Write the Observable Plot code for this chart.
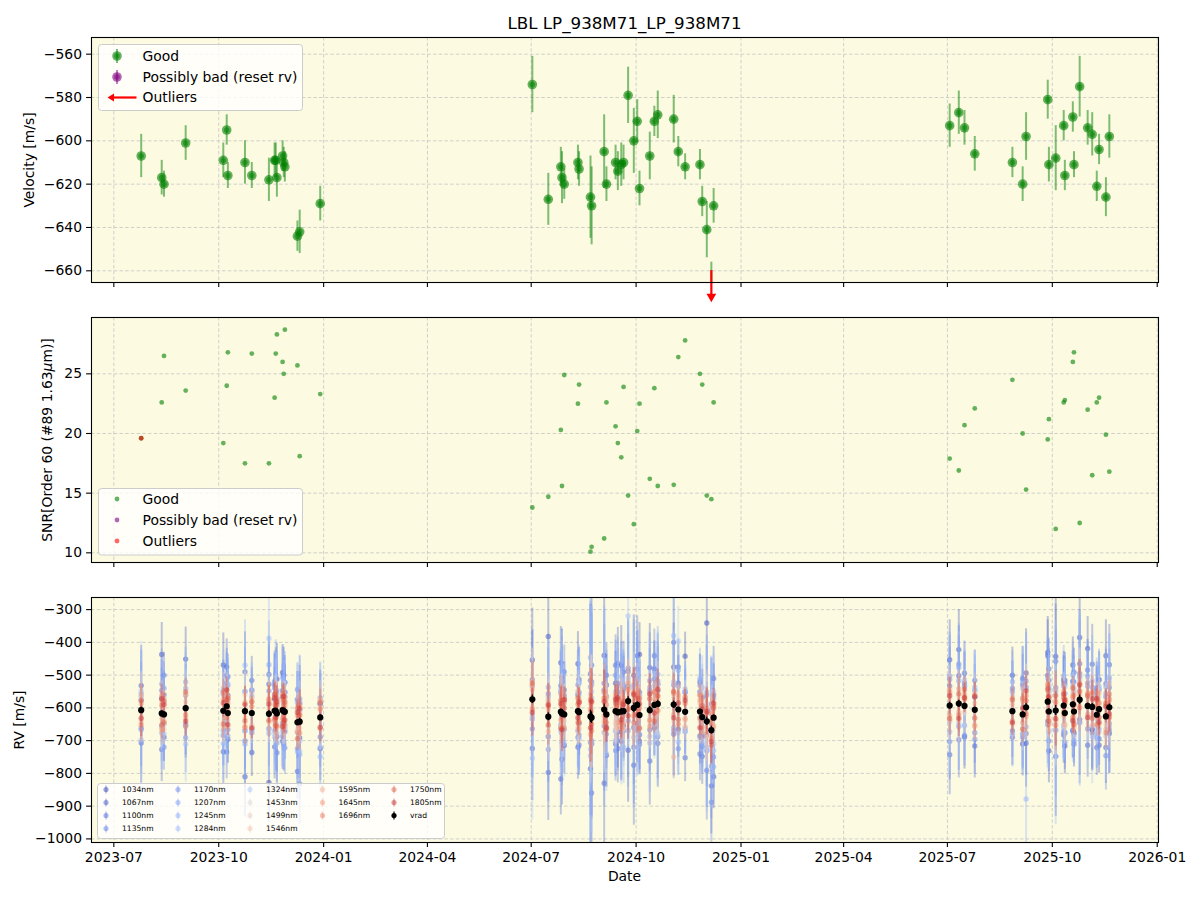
<!DOCTYPE html>
<html>
<head>
<meta charset="utf-8">
<script src="https://cdn.jsdelivr.net/npm/d3@7"></script>
<script src="https://cdn.jsdelivr.net/npm/@observablehq/plot@0.6"></script>
<style>
  body { margin: 0; background: #fff; font-family: "DejaVu Sans", sans-serif; }
  #fig { position: relative; width: 1200px; height: 900px; overflow: hidden; background: #fff; }
  .panel { position: absolute; left: 0; }
  .lbl { position: absolute; white-space: nowrap; font-size: 13.9px; line-height: 1; color: #000; }
  .rot { transform: translate(-50%, -50%) rotate(-90deg); }
  .ctr { transform: translate(-50%, -50%); }
</style>
</head>
<body>
<div id="fig"></div>
<script>
// ---------- observation epochs ----------
const epochDates = [
  "2023-07-25","2023-08-12","2023-08-14","2023-09-02","2023-10-05","2023-10-08","2023-10-09",
  "2023-10-24","2023-10-30","2023-11-14","2023-11-19","2023-11-20","2023-11-21","2023-11-26",
  "2023-11-27","2023-11-28","2023-12-09","2023-12-11","2023-12-29",
  "2024-07-02","2024-07-16","2024-07-27","2024-07-28","2024-07-30","2024-08-11","2024-08-12",
  "2024-08-22","2024-08-23","2024-09-03","2024-09-05","2024-09-13","2024-09-15","2024-09-18",
  "2024-09-20","2024-09-24","2024-09-29","2024-10-02","2024-10-04","2024-10-13","2024-10-17",
  "2024-10-20","2024-11-03","2024-11-07","2024-11-13","2024-11-26","2024-11-28","2024-12-02",
  "2024-12-06","2024-12-08",
  "2025-07-03","2025-07-11","2025-07-16","2025-07-25","2025-08-27","2025-09-05","2025-09-08",
  "2025-09-27","2025-09-28","2025-10-04","2025-10-11","2025-10-12","2025-10-19","2025-10-20",
  "2025-10-25","2025-11-01","2025-11-05","2025-11-09","2025-11-11","2025-11-17","2025-11-20"
];

// LBL velocity per epoch [m/s] and its uncertainty
const vrad = [
  -607, -617, -620, -601, -609, -595, -616, -610, -616, -618, -609, -609, -617, -607, -610, -612, -644, -642, -629,
  -574, -627, -612, -617, -620, -610, -613, -626, -630, -605, -620, -610, -614, -611, -610,
  -579, -600, -591, -622, -607, -591, -588, -590, -605, -612, -611, -628, -641, -668, -630,
  -593, -587, -594, -606, -610, -620, -598, -581, -611, -608, -593, -616, -589, -611, -575, -594, -597, -621, -604, -626, -598
];
const vradErr = [
  10, 8, 6, 8, 8, 7, 6, 10, 6, 10, 8, 8, 9, 7, 7, 7, 7, 10, 8,
  13, 12, 9, 12, 7, 8, 8, 19, 18, 17, 8, 8, 9, 10, 8, 13, 15, 10, 8, 11, 7, 11, 11, 7, 6, 7, 7, 13, 12, 8,
  10, 10, 8, 8, 7, 8, 11, 9, 8, 15, 7, 7, 7, 6, 14, 8, 10, 7, 7, 9, 10
];

// SNR in order 60 per epoch
const snr = [
  19.6, 22.6, 26.5, 23.6, 19.2, 24.0, 26.8, 17.5, 26.7, 17.5, 23.0, 26.7, 28.3, 26.0, 25.0, 28.7, 25.7, 18.1, 23.3,
  13.8, 14.7, 20.3, 15.6, 24.9, 22.5, 24.1, 10.1, 10.5, 11.2, 22.6, 20.6, 19.2, 18.0, 23.9, 14.8, 12.4, 20.2, 22.5,
  16.2, 23.8, 15.6, 15.7, 26.4, 27.8, 25.0, 24.1, 14.8, 14.5, 22.6,
  17.9, 16.9, 20.7, 22.1, 24.5, 20.0, 15.3, 19.5, 21.2, 12.0, 22.6, 22.8, 26.0, 26.8, 12.5, 22.0, 16.5, 22.6, 23.0, 19.9, 16.8
];

// flagged epochs
const velocityOutlierDates = ["2024-12-06"];
const snrOutlierDates = ["2023-07-25"];
const possiblyBadDates = [];

// ---------- per-band (chromatic) velocities: band RV minus the epoch's vrad [m/s] ----------
const bandNames = ["1034nm","1067nm","1100nm","1135nm","1170nm","1207nm","1245nm","1284nm","1324nm",
                   "1453nm","1499nm","1546nm","1595nm","1645nm","1696nm","1750nm","1805nm"];
const bandWavelengths = [1034, 1067, 1100, 1135, 1170, 1207, 1245, 1284, 1324, 1453, 1499, 1546, 1595, 1645, 1696, 1750, 1805];
// typical per-band uncertainty at an epoch with a 9 m/s vrad error
const bandErr = [110, 110, 105, 105, 120, 120, 125, 130, 135, 80, 70, 62, 52, 48, 46, 46, 50];

const off1034 = [75, 180, -70, 150, 140, -45, 55, -200, -120, -210, 35, -85, 105, 115, -40, 60, 70, -50, -95,
  120, 245, 150, 55, -95, 145, -35, -160, -80, 165, -125, 85, -60, 140, -45, -150, 100, -55, 185, 130, -70, 40, 115, -60, 170, -75, 60, 300, 20, -180,
  140, 165, -95, 40, 110, -90, 105, 150, -120, 165, 80, -100, 120, -65, 190, 175, -70, 60, -110, 185, -80];
const off1067 = [-100, -110, 60, -55, -125, 120, -80, 120, 100, 90, -110, 95, -70, -95, 110, -60, -150, -190, 45,
  -150, -170, -205, 110, 75, -110, 100, 110, 160, -225, 120, -100, 150, -90, 70, 45, -175, 150, -80, -155, 110, -120, 190, 80, -140, 90, -120, -40, -170, 120,
  -150, 85, 100, -110, -80, 110, -110, 140, 95, -140, -90, 100, -80, 120, -60, -120, 130, -100, 90, -95, 130];
const off1100 = [30, 45, 120, -50, 60, -140, 110, -60, 70, 120, 80, -40, -120, 60, -100, 90, -30, 55, -60,
  60, -60, 80, -140, 130, 50, -100, 130, -230, 60, 90, 140, -110, 60, 120, 90, -60, 110, 70, -60, 150, 60, -90, 130, 60, -130, -60, -150, 80, 70,
  60, -110, 70, 90, -60, 90, -80, -60, 130, 150, 70, 90, -80, -100, 110, 110, -70, 80, -90, 100, -50];
const off1135 = [-55, 70, -100, 40, -75, 95, -50, -90, -60, -45, 90, -60, 45, -40, 80, -110, 100, 35, 40,
  -90, 70, -40, 95, 55, -80, 60, -80, 110, -50, 55, -120, 90, -90, -60, 100, -120, 80, -90, 60, 80, -100, 60, -120, -60, 60, -90, 80, -220, -120,
  -110, 120, -90, -70, 70, -70, 60, 80, -90, 70, -80, -90, 70, -90, 80, -70, -80, 70, 60, -120, 60];
const off1170 = [50, -40, 80, -90, -60, 70, 85, 60, -50, 70, 70, 60, -90, -80, 60, 45, -80, 70, 60,
  40, -100, 60, -60, -45, 80, -70, 90, -70, 80, -60, 110, -60, 80, 80, -60, 70, -80, -60, 90, -60, 70, -80, 70, -50, 80, -60, -90, -110, 60,
  80, -70, 60, -90, 60, -60, 80, -70, 70, -60, 60, -60, 70, 90, -70, 70, 60, -70, 90, 60, -70];
const off1207 = [-60, 90, 40, 80, 50, -50, -70, -100, 50, 150, -60, 110, 70, 100, -90, 90, 60, -100, 40,
  -60, 90, -50, 100, 40, -60, 90, 180, 100, -70, 90, -60, 110, 60, 70, -90, 60, 70, -60, 70, 100, 90, -70, 120, 60, 100, -80, 90, 60, -150,
  90, 110, -60, 60, 90, 100, -60, 80, -60, 60, 90, -60, 90, -70, 70, 90, -60, 80, -60, 70, 90];
const off1245 = [40, -60, -60, 60, -100, 60, 40, 140, 70, -60, 50, -70, 60, -60, 90, -50, -90, 60, -120,
  -50, 60, 70, -90, 60, 50, -80, -120, 60, 80, -40, -90, 60, 50, -110, 70, -60, 90, 60, -100, -60, 60, 210, -70, 70, 60, 90, -80, 60, -100,
  -80, 70, 60, 70, -70, -60, -280, 70, 60, -140, -60, 60, -80, 60, -70, 60, 80, -60, 70, 90, -60];
const off1284 = [-90, 50, -30, -110, 70, -80, 50, 60, -50, 230, -80, 60, -60, 40, -70, 60, 40, -90, -90,
  -180, -60, 60, 50, -90, 60, 90, -100, 80, 50, -120, 60, 80, -80, 60, 260, -90, 60, 50, -80, 60, -90, 70, -100, 60, -80, 60, -90, 50, 80,
  90, -60, 80, 60, -70, 80, 60, -70, 80, -60, -70, 80, 60, -80, 70, 60, -90, 60, -70, 60, 80];
const off1324 = [60, -40, 50, 60, -70, -50, 90, -60, 60, -50, -70, 40, 50, -70, 50, -40, 70, -60, 50,
  -60, 50, -60, 70, 50, -60, 50, 70, -80, 60, 50, -60, 70, 50, -50, 60, 60, -70, 60, 50, -60, 60, 60, 210, -60, 50, -70, 50, -60, -80,
  -50, 70, -60, 60, 50, -60, 60, -70, 60, 50, -60, 60, -50, 70, 60, -70, 60, -50, 60, -60, 70];
const off1453 = [30, -40, 20, 45, -30, 40, -20, 30, -40, 35, -25, 40, -30, 25, -40, 30, -20, 35, -30,
  40, -30, 35, -40, 30, -25, 40, -35, 30, -40, 25, -30, 40, -35, 30, -25, 35, -40, 30, -20, 40, -30, 25, -35, 40, -30, 35, -25, 30, -40,
  35, -30, 40, -25, 30, -40, 35, -30, 25, -35, 40, -30, 35, -25, 30, -40, 35, -30, 40, -25, 30];
const off1499 = [-20, 35, -45, 20, 55, -30, 15, 50, -35, 25, 45, -20, 30, -50, 20, 40, -25, 15, 50,
  55, 20, -45, 30, -20, 60, -35, 15, 50, -40, 30, -55, 20, 45, -30, 25, -15, 50, -40, 35, -25, 45, -50, 20, 30, -45, 15, 55, -30, 25,
  -45, 25, -20, 50, -35, 15, 45, -30, -55, 20, 35, -40, 25, -15, 50, -35, 20, 45, -25, 30, -50];
const off1546 = [45, -15, 30, -55, 20, 50, -40, -20, 45, 15, -45, 25, 35, -30, 10, -50, 40, -20, 30,
  -25, 50, 20, -35, 45, -50, 25, 60, -30, 20, 45, -40, 15, 35, -55, 40, 20, -25, 55, -35, 15, -20, 40, 30, -45, 25, 50, -35, 20, -30,
  25, -50, 30, 20, -40, 45, -25, 15, 55, -30, 20, 40, -45, 25, -20, 35, -55, 30, 15, 45, -35];
const off1595 = [-35, 55, -20, 40, -50, 25, 15, -45, 35, -25, 20, 50, -40, 30, -15, 45, -30, 25, 55,
  30, -45, 55, -20, 35, 25, -50, 40, 20, -35, 55, 15, -45, 30, 40, -20, 50, -30, 25, 45, -40, 15, -160, 35, -25, 50, 20, -45, 30, 40,
  50, -25, 35, -45, 20, 40, -30, 55, -20, 30, 45, -35, 25, -50, 15, 40, -25, 30, 50, -40, 20];
const off1645 = [20, -50, 45, -30, 35, -20, 50, 25, -45, 40, -30, 15, 45, -25, 35, -40, 20, 50, -35,
  45, 30, -25, 50, -40, 20, 35, -55, 45, -20, 30, 50, -30, 25, -40, 55, -25, 35, 20, -50, 40, 25, -30, 45, -20, 35, -45, 30, 50, -25,
  -30, 45, 20, -50, 40, -25, 35, 50, -40, 25, -30, 45, 20, -35, 50, -25, 40, 20, -45, 35, 25];
const off1696 = [-45, 25, 40, -20, 55, -35, 30, -50, 20, 45, -25, 35, -40, 50, -30, 20, 45, -35, 25,
  -30, 40, -50, 25, 45, -35, 30, 20, -40, 55, -25, 40, 30, -50, 20, 35, -45, 25, 50, -30, 40, -20, 35, -45, 25, 50, -30, 40, -25, 35,
  40, -35, 25, 45, -30, 50, -20, 35, 40, -45, 25, 30, -40, 50, -25, 35, 45, -30, 20, -50, 40];
const off1750 = [30, -35, -25, 50, -40, 20, 45, -30, 35, -20, 50, -45, 25, 40, -35, 30, -50, 20, 45,
  50, -25, 35, -45, 20, 40, -30, 50, -20, 35, -45, 25, 40, -35, 30, -25, 45, 20, -40, 35, -50, 25, 40, -30, 45, -20, 35, 25, -45, 30,
  -40, 30, 50, -25, 35, -45, 20, 40, -30, 45, -20, 35, 50, -40, 25, 30, -35, 45, -25, 40, -30];
const off1805 = [-25, 45, 30, -40, 25, 50, -35, 20, -45, 30, 40, -20, 35, -50, 45, -25, 30, 40, -30,
  -40, 35, 25, -50, 45, -20, 30, -35, 50, 25, -40, 35, 45, -25, 20, -45, 40, -30, 35, 50, -25, 45, -40, 20, 35, -50, 25, 30, -35, 45,
  30, -45, 25, 40, -35, 20, 50, -30, 45, -25, 35, 40, -50, 20, 45, -35, 25, 50, -40, 30, -20];
const bandOffsets = [off1034, off1067, off1100, off1135, off1170, off1207, off1245, off1284, off1324,
                     off1453, off1499, off1546, off1595, off1645, off1696, off1750, off1805];

// ---------- axes ----------
const xDomain = ["2023-06-11T10:00:00Z", "2026-01-02T03:00:00Z"];
const quarterTicks = ["2023-07-01","2023-10-01","2024-01-01","2024-04-01","2024-07-01","2024-10-01",
                      "2025-01-01","2025-04-01","2025-07-01","2025-10-01","2026-01-01"];
const velDomain = [-665.4, -552.3];
const velTicks = [-660, -640, -620, -600, -580, -560];
const snrDomain = [9.19, 29.72];
const snrTicks = [10, 15, 20, 25];
const rvDomain = [-1011, -263];
const rvTicks = [-1000, -900, -800, -700, -600, -500, -400, -300];

const titleText = "LBL LP_938M71_LP_938M71";

// ---------- derived tables ----------
const obs = epochDates.map((d, i) => ({date: new Date(d), v: vrad[i], e: vradErr[i], snr: snr[i]}));
const velOutliers = obs.filter(o => velocityOutlierDates.includes(o.date.toISOString().slice(0, 10)));
const snrOutliers = obs.filter(o => snrOutlierDates.includes(o.date.toISOString().slice(0, 10)));
const possiblyBad = obs.filter(o => possiblyBadDates.includes(o.date.toISOString().slice(0, 10)));

const coolwarm = d3.piecewise(d3.interpolateRgb, ["#3b4cc0","#6282ea","#8db0fe","#b8d0f9","#dddcdc","#f5c4ac","#f49a7b","#dc5d4a","#b40426"]);
const wlExtent = d3.extent(bandWavelengths);
// band colours sampled along coolwarm, stopping short of the darkest red
const bandColor = b => coolwarm(0.93 * (bandWavelengths[b] - wlExtent[0]) / (wlExtent[1] - wlExtent[0]));

const chromatic = bandNames.map((name, b) => epochDates.map((d, e) => ({
  date: new Date(d),
  rv: vrad[e] + bandOffsets[b][e],
  err: bandErr[b] * vradErr[e] / 9
})));

// ---------- layout ----------
const fig = document.getElementById("fig");
const bg = "#fcfbe2";
const gridStyle = {stroke: "#c4c4c4", strokeOpacity: 1, strokeWidth: 0.8, strokeDasharray: "3.5,2.2"};
const xTime = {type: "utc", domain: xDomain.map(d => new Date(d))};
const xTickDates = quarterTicks.map(d => new Date(d));

function panel(top, height, mt, mb, yDomain, yTicks, marks, showDates) {
  const chart = Plot.plot({
    width: 1200, height,
    marginLeft: 91, marginRight: 42, marginTop: mt, marginBottom: mb,
    style: {fontFamily: "'DejaVu Sans', sans-serif", fontSize: "13.9px", background: "transparent", color: "#000", overflow: "visible"},
    x: xTime,
    y: {domain: yDomain},
    marks: [
      Plot.frame({fill: bg, stroke: "none"}),
      Plot.gridX(xTickDates, gridStyle),
      Plot.gridY(yTicks, gridStyle),
      ...marks,
      Plot.frame({stroke: "#000", strokeWidth: 1.1}),
      Plot.axisX(xTickDates, {tickSize: 4.9, tickPadding: 4.6, strokeWidth: 1.1, label: null,
        tickFormat: showDates ? d3.utcFormat("%Y-%m") : () => ""}),
      Plot.axisY(yTicks, {tickSize: 4.9, tickPadding: 4.6, strokeWidth: 1.1, label: null, tickFormat: d3.format("d")})
    ]
  });
  chart.classList.add("panel");
  chart.style.top = top + "px";
  chart.style.position = "absolute";
  fig.appendChild(chart);
  return chart;
}

// Panel 1: LBL velocity (off-scale points flagged with a red arrow below the axis)
panel(0, 310, 37, 28, velDomain, velTicks, [
  Plot.ruleX(obs, {x: "date", y1: d => d.v - d.e, y2: d => d.v + d.e, stroke: "green", strokeOpacity: 0.5, strokeWidth: 2, clip: true}),
  Plot.dot(obs, {x: "date", y: "v", r: 4.8, fill: "green", fillOpacity: 0.6, clip: true}),
  Plot.dot(obs, {x: "date", y: "v", r: 2.8, fill: "green", fillOpacity: 0.5, clip: true}),
  Plot.dot(possiblyBad, {x: "date", y: "v", r: 4.8, fill: "purple", fillOpacity: 0.6, clip: true}),
  Plot.ruleX(velOutliers, {x: "date", y1: () => velDomain[0] + 5.5, y2: () => velDomain[0] - 6.5, stroke: "red", strokeWidth: 2.2}),
  Plot.dot(velOutliers, {x: "date", y: () => velDomain[0] - 6.5, symbol: "triangle", rotate: 180, r: 3.6, fill: "red", stroke: "none"})
], false);

// Panel 2: SNR
panel(300, 280, 17, 18, snrDomain, snrTicks, [
  Plot.dot(obs, {x: "date", y: "snr", r: 2.4, fill: "green", fillOpacity: 0.6}),
  Plot.dot(possiblyBad, {x: "date", y: "snr", r: 2.4, fill: "purple", fillOpacity: 0.6}),
  Plot.dot(snrOutliers, {x: "date", y: "snr", r: 2.4, fill: "red", fillOpacity: 0.6})
], false);

// Panel 3: per-band RVs with the combined vrad on top
const bandMarks = chromatic.flatMap((rows, b) => [
  Plot.ruleX(rows, {x: "date", y1: d => d.rv - d.err, y2: d => d.rv + d.err, stroke: bandColor(b), strokeOpacity: 0.33, strokeWidth: 2, clip: true}),
  Plot.dot(rows, {x: "date", y: "rv", r: 2.7, fill: bandColor(b), fillOpacity: 0.5, clip: true})
]);
panel(580, 320, 17, 58, rvDomain, rvTicks, [
  ...bandMarks,
  Plot.ruleX(obs, {x: "date", y1: d => d.v - d.e, y2: d => d.v + d.e, stroke: "#000", strokeWidth: 1.2, clip: true}),
  Plot.dot(obs, {x: "date", y: "v", r: 3.1, fill: "#000", clip: true})
], true);

// ---------- text: title and axis labels ----------
function label(html, x, y, cls, size) {
  const div = document.createElement("div");
  div.className = "lbl " + cls;
  div.innerHTML = html;
  div.style.left = x + "px";
  div.style.top = y + "px";
  if (size) div.style.fontSize = size + "px";
  fig.appendChild(div);
}
label(titleText, 624.5, 23, "ctr", 16.7);
label("Velocity [m/s]", 30, 159.5, "rot");
label("SNR[Order 60 (#89 1.63<i>μ</i>m)]", 48, 439.5, "rot");
label("RV [m/s]", 20, 719.5, "rot");
label("Date", 624.5, 877, "ctr");

// ---------- legends ----------
const overlay = d3.select(fig).append("svg")
  .attr("width", 1200).attr("height", 900)
  .style("position", "absolute").style("left", "0px").style("top", "0px")
  .style("font-family", "'DejaVu Sans', sans-serif");

function legendBox(x, y, w, h) {
  overlay.append("rect").attr("x", x).attr("y", y).attr("width", w).attr("height", h).attr("rx", 3)
    .attr("fill", "#fff").attr("fill-opacity", 0.8).attr("stroke", "#cccccc").attr("stroke-width", 1);
}
function legendText(x, y, text, size) {
  overlay.append("text").attr("x", x).attr("y", y).attr("dy", "0.35em")
    .attr("font-size", size).attr("fill", "#000").text(text);
}

// velocity legend
legendBox(98.5, 44.5, 204, 66);
[["Good", "green", 56], ["Possibly bad (reset rv)", "purple", 77]].forEach(([t, c, y]) => {
  overlay.append("line").attr("x1", 117).attr("x2", 117).attr("y1", y - 7).attr("y2", y + 7)
    .attr("stroke", c).attr("stroke-opacity", 0.5).attr("stroke-width", 2);
  overlay.append("circle").attr("cx", 117).attr("cy", y).attr("r", 4.8).attr("fill", c).attr("fill-opacity", 0.6);
  overlay.append("circle").attr("cx", 117).attr("cy", y).attr("r", 2.8).attr("fill", c).attr("fill-opacity", 0.5);
  legendText(142.5, y, t, 13.9);
});
overlay.append("line").attr("x1", 136.5).attr("x2", 111).attr("y1", 97.5).attr("y2", 97.5)
  .attr("stroke", "red").attr("stroke-width", 2.2);
overlay.append("path").attr("d", "M107.5,97.5 L114,93.5 L114,101.5 Z").attr("fill", "red");
legendText(142.5, 97.5, "Outliers", 13.9);

// SNR legend
legendBox(98.5, 488.5, 204, 66.5);
[["Good", "green", 499], ["Possibly bad (reset rv)", "purple", 520], ["Outliers", "red", 541]].forEach(([t, c, y]) => {
  overlay.append("circle").attr("cx", 117).attr("cy", y).attr("r", 2.4).attr("fill", c).attr("fill-opacity", 0.6);
  legendText(142.5, y, t, 13.9);
});

// per-band legend (column-major, 4 rows)
legendBox(97.5, 783.5, 347, 55);
const colMarkerX = [106, 178, 250, 322.5, 394];
const rowY = [789.5, 802.5, 815.5, 828.5];
const legendEntries = bandNames.map((n, b) => ({name: n, color: bandColor(b), opacity: 0.5}))
  .concat([{name: "vrad", color: "#000", opacity: 1}]);
const perCol = [4, 4, 4, 3, 3];
let k = 0;
perCol.forEach((count, col) => {
  for (let r = 0; r < count; r++, k++) {
    const e = legendEntries[k];
    const cx = colMarkerX[col], cy = rowY[r];
    overlay.append("line").attr("x1", cx).attr("x2", cx).attr("y1", cy - 4).attr("y2", cy + 4)
      .attr("stroke", e.color).attr("stroke-opacity", e.opacity * 0.75).attr("stroke-width", 1.6);
    overlay.append("circle").attr("cx", cx).attr("cy", cy).attr("r", 2.6).attr("fill", e.color).attr("fill-opacity", e.opacity);
    legendText(cx + 16, cy, e.name, 7.6);
  }
});
</script>
</body>
</html>
